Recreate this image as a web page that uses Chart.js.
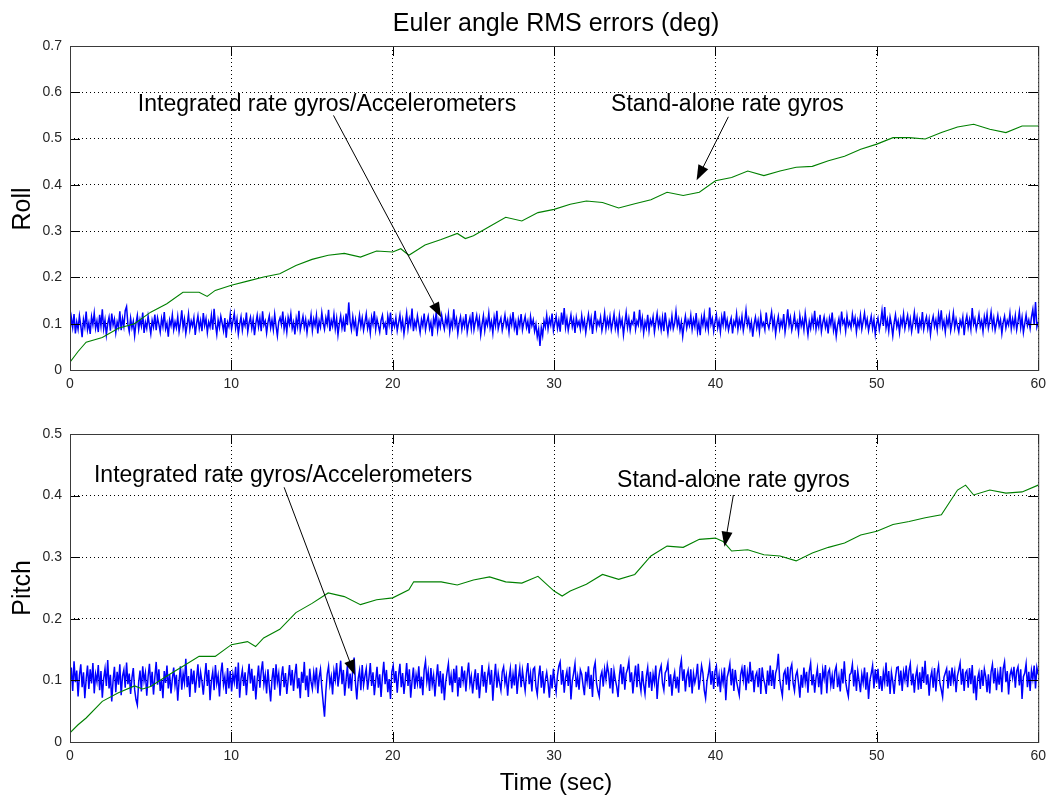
<!DOCTYPE html>
<html lang="en">
<head>
  <meta charset="UTF-8">
  <title>Euler angle RMS errors</title>
  <script src="https://cdn.jsdelivr.net/npm/chart.js"></script>
  <style>
    * { margin: 0; padding: 0; box-sizing: border-box; }
    body { background: #fff; width: 1052px; height: 796px; position: relative; overflow: hidden; }
    canvas { position: absolute; left: 0; }
    #rollChart { top: 0; }
    #pitchChart { top: 400px; }
  </style>
</head>
<body>
  <canvas id="rollChart" width="1052" height="400"></canvas>
  <canvas id="pitchChart" width="1052" height="396"></canvas>

  <script>
    // axis ticks
    const timeTicks = [0, 10, 20, 30, 40, 50, 60];
    const rollTicks = [0, 0.1, 0.2, 0.3, 0.4, 0.5, 0.6, 0.7];
    const pitchTicks = [0, 0.1, 0.2, 0.3, 0.4, 0.5];

    // stand-alone rate gyros (green)
    const rollGyroTime = [0, 0.5, 1, 2, 3, 4, 5, 6, 7, 8, 8.5, 9, 10, 11, 12, 13, 14, 15, 16, 17, 18, 19, 20, 20.5, 21, 22, 23, 24, 24.5, 25,
      26, 27, 28, 29, 30, 31, 32, 33, 34, 35, 36, 37, 38, 39, 40, 41, 42, 43, 44, 45, 46, 47, 48, 49, 50, 51, 52, 53, 54, 55, 56, 57, 58, 59, 60];
    const rollGyro = [0.017, 0.040, 0.060, 0.070, 0.090, 0.100, 0.125, 0.143, 0.168, 0.168, 0.159, 0.172, 0.183, 0.192, 0.201, 0.208, 0.226, 0.239, 0.248, 0.252,
      0.244, 0.257, 0.255, 0.262, 0.248, 0.270, 0.282, 0.295, 0.284, 0.290, 0.310, 0.330, 0.322, 0.340, 0.347, 0.358, 0.365, 0.362, 0.350, 0.359,
      0.368, 0.384, 0.377, 0.384, 0.409, 0.416, 0.430, 0.420, 0.430, 0.438, 0.440, 0.452, 0.462, 0.477, 0.488, 0.502, 0.502, 0.499, 0.513, 0.525,
      0.531, 0.520, 0.513, 0.527, 0.527];

    const pitchGyroTime = [0, 0.5, 1, 2, 3, 4, 4.5, 5, 6, 7, 8, 9, 10, 11, 11.5, 12, 13, 14, 15, 16, 17, 18, 19, 20, 21, 21.3, 22, 23, 24, 25,
      26, 27, 28, 29, 30, 30.5, 31, 32, 33, 34, 35, 36, 37, 38, 39, 40, 40.5, 41, 42, 43, 44, 45, 46, 47, 48, 49, 50, 51, 52, 53,
      54, 55, 55.5, 56, 57, 58, 59, 60];
    const pitchGyro = [0.015, 0.028, 0.039, 0.066, 0.080, 0.091, 0.086, 0.090, 0.107, 0.123, 0.139, 0.139, 0.158, 0.163, 0.155, 0.169, 0.183, 0.210, 0.225, 0.242,
      0.236, 0.223, 0.231, 0.234, 0.247, 0.260, 0.260, 0.260, 0.255, 0.263, 0.268, 0.260, 0.258, 0.269, 0.245, 0.237, 0.245, 0.256, 0.272, 0.264,
      0.272, 0.302, 0.318, 0.316, 0.329, 0.331, 0.325, 0.310, 0.312, 0.304, 0.302, 0.294, 0.307, 0.316, 0.323, 0.336, 0.342, 0.353, 0.358, 0.364,
      0.369, 0.409, 0.417, 0.401, 0.409, 0.404, 0.406, 0.417];

    // integrated rate gyros/accelerometers (blue), estimated, evenly sampled over 0..60 s
    const rollIntegrated = [
      .084,.113,.092,.121,.079,.104,.088,.117,.096,.071,.109,.093,.126,.087,.102,.078,.115,.098,.123,.090,
      .106,.082,.119,.095,.131,.089,.108,.076,.100,.114,.085,.122,.097,.110,.081,.104,.092,.127,.086,.111,
      .094,.128,.137,.099,.083,.112,.091,.105,.074,.101,.118,.088,.109,.095,.124,.080,.103,.090,.116,.097,
      .078,.107,.093,.120,.086,.113,.099,.082,.111,.094,.125,.089,.101,.072,.108,.096,.119,.087,.104,.091,
      .115,.083,.102,.129,.092,.110,.079,.098,.121,.088,.106,.095,.113,.076,.100,.117,.090,.107,.084,.123,
      .096,.111,.081,.104,.093,.118,.087,.132,.099,.077,.108,.092,.116,.101,.085,.112,.070,.103,.094,.120,
      .089,.105,.122,.091,.110,.078,.099,.115,.086,.107,.096,.124,.083,.102,.114,.090,.109,.075,.101,.118,
      .093,.112,.084,.127,.097,.106,.080,.103,.117,.091,.108,.087,.120,.095,.074,.104,.113,.098,.126,.088,
      .107,.082,.114,.099,.121,.090,.103,.077,.111,.094,.128,.086,.101,.116,.092,.109,.081,.105,.097,.119,
      .085,.110,.096,.118,.079,.106,.093,.124,.102,.088,.113,.099,.130,.084,.107,.095,.120,.089,.111,.076,
      .100,.117,.091,.109,.083,.122,.097,.146,.104,.087,.115,.092,.108,.073,.098,.119,.094,.112,.086,.103,
      .121,.090,.105,.080,.114,.099,.127,.088,.110,.096,.082,.107,.118,.093,.101,.076,.116,.098,.124,.087,
      .106,.094,.113,.085,.102,.119,.091,.108,.078,.100,.123,.089,.111,.097,.133,.084,.105,.092,.117,.099,
      .081,.109,.095,.122,.087,.104,.116,.090,.103,.073,.112,.098,.126,.086,.107,.093,.118,.101,.088,.114,
      .097,.120,.083,.106,.092,.131,.096,.110,.079,.102,.115,.088,.108,.094,.121,.082,.100,.113,.090,.125,
      .087,.104,.118,.093,.111,.076,.099,.117,.085,.108,.097,.123,.091,.105,.080,.114,.096,.128,.089,.102,
      .112,.086,.101,.119,.094,.107,.082,.113,.098,.125,.090,.104,.075,.109,.095,.121,.087,.103,.116,.092,
      .105,.079,.115,.096,.108,.084,.099,.072,.088,.052,.091,.074,.106,.093,.118,.089,.110,.097,.122,.085,
      .101,.116,.090,.107,.083,.124,.098,.134,.092,.111,.086,.103,.119,.094,.109,.080,.113,.096,.105,.088,
      .117,.093,.108,.081,.102,.120,.095,.112,.078,.104,.128,.091,.106,.097,.114,.085,.100,.123,.089,.110,
      .094,.115,.087,.103,.121,.090,.107,.083,.118,.096,.109,.076,.101,.124,.092,.111,.086,.105,.099,.126,
      .088,.106,.097,.130,.093,.112,.080,.104,.091,.119,.085,.108,.098,.115,.082,.103,.122,.094,.110,.087,
      .113,.084,.124,.099,.079,.105,.092,.117,.089,.101,.127,.095,.110,.086,.104,.073,.098,.116,.091,.107,
      .096,.118,.088,.109,.094,.123,.083,.102,.075,.113,.097,.120,.090,.106,.087,.135,.099,.111,.084,.104,
      .119,.091,.106,.082,.115,.098,.127,.093,.108,.086,.101,.112,.079,.105,.096,.121,.088,.109,.094,.116,
      .085,.103,.129,.097,.110,.088,.104,.072,.099,.114,.091,.107,.083,.118,.095,.102,.087,.124,.100,.090,
      .108,.125,.093,.111,.078,.101,.116,.089,.106,.094,.121,.082,.103,.131,.097,.113,.086,.100,.118,.092,
      .104,.081,.117,.095,.109,.087,.122,.099,.076,.105,.090,.114,.096,.128,.088,.107,.093,.119,.083,.102,
      .115,.092,.106,.079,.112,.098,.124,.086,.103,.073,.097,.111,.089,.126,.100,.108,.084,.117,.095,.104,
      .091,.120,.099,.113,.082,.107,.094,.118,.088,.105,.123,.096,.110,.085,.101,.116,.090,.109,.077,.100,
      .112,.087,.103,.128,.095,.136,.091,.108,.084,.114,.098,.074,.102,.119,.093,.106,.081,.111,.097,.121,
      .089,.105,.118,.092,.110,.083,.101,.124,.096,.113,.079,.107,.094,.125,.088,.104,.115,.090,.109,.077,
      .103,.116,.094,.108,.086,.120,.099,.129,.093,.106,.082,.112,.097,.118,.085,.101,.123,.091,.110,.095,
      .082,.107,.096,.114,.075,.104,.117,.092,.109,.088,.134,.099,.111,.087,.102,.120,.094,.106,.083,.115,
      .098,.121,.090,.105,.125,.093,.112,.086,.101,.118,.095,.108,.079,.103,.116,.091,.107,.097,.122,.089,
      .110,.094,.117,.087,.105,.126,.092,.113,.081,.100,.119,.096,.108,.090,.115,.131,.098,.147,.093,.104
    ];
    const pitchIntegrated = [
      .092,.121,.083,.131,.097,.116,.074,.108,.126,.089,.113,.071,.102,.124,.086,.118,.095,.128,.079,.110,
      .098,.125,.084,.115,.072,.103,.119,.091,.133,.087,.109,.066,.100,.122,.081,.114,.093,.126,.076,.107,
      .117,.088,.129,.094,.111,.078,.104,.120,.085,.069,.060,.097,.116,.082,.123,.099,.112,.075,.106,.127,
      .090,.114,.077,.105,.130,.093,.118,.083,.101,.071,.115,.096,.124,.087,.110,.079,.102,.121,.092,.109,
      .067,.099,.123,.085,.111,.096,.135,.089,.107,.073,.119,.094,.116,.080,.103,.126,.088,.113,.098,.077,
      .104,.128,.091,.117,.068,.100,.114,.084,.125,.095,.108,.074,.112,.129,.093,.106,.078,.120,.087,.115,
      .082,.110,.097,.122,.086,.129,.072,.103,.117,.091,.113,.076,.105,.127,.095,.119,.083,.108,.069,.101,
      .124,.088,.115,.131,.094,.109,.079,.118,.090,.066,.102,.120,.085,.126,.097,.111,.075,.106,.123,.089,
      .112,.078,.101,.125,.092,.117,.083,.109,.127,.087,.104,.071,.114,.096,.130,.084,.108,.073,.119,.098,
      .086,.113,.095,.121,.079,.105,.118,.088,.064,.041,.082,.110,.123,.093,.106,.077,.115,.101,.128,.090,
      .109,.132,.094,.117,.075,.100,.124,.087,.111,.083,.120,.137,.096,.069,.103,.116,.084,.125,.092,.107,
      .119,.085,.104,.128,.091,.113,.076,.099,.122,.088,.110,.073,.106,.130,.094,.117,.081,.102,.070,.114,
      .124,.096,.115,.080,.108,.127,.089,.112,.078,.101,.128,.091,.118,.072,.099,.121,.086,.109,.095,.123,
      .087,.106,.076,.117,.131,.098,.114,.083,.120,.093,.108,.074,.103,.126,.090,.115,.079,.111,.068,.097,
      .113,.127,.092,.108,.081,.119,.096,.124,.074,.105,.088,.123,.099,.116,.082,.110,.129,.094,.107,.079,
      .101,.118,.085,.112,.071,.097,.125,.090,.114,.080,.106,.121,.093,.117,.067,.102,.127,.088,.111,.096,
      .084,.114,.122,.095,.108,.075,.103,.119,.087,.110,.092,.126,.078,.104,.120,.089,.116,.099,.083,.112,
      .128,.094,.111,.082,.118,.121,.090,.077,.106,.124,.088,.115,.079,.101,.113,.096,.072,.109,.087,.119,
      .097,.081,.108,.123,.130,.093,.117,.080,.104,.115,.091,.122,.069,.099,.112,.127,.089,.106,.085,.117,
      .110,.092,.076,.114,.098,.123,.086,.109,.073,.119,.129,.095,.083,.074,.106,.114,.090,.118,.102,.125,
      .112,.087,.120,.079,.116,.101,.090,.073,.108,.126,.094,.122,.085,.111,.118,.131,.097,.113,.079,.104,
      .124,.089,.127,.098,.083,.115,.093,.078,.107,.121,.088,.114,.083,.110,.096,.124,.070,.101,.116,.124,
      .095,.084,.112,.117,.128,.090,.110,.075,.101,.113,.087,.106,.080,.120,.133,.099,.118,.082,.107,.116,
      .089,.118,.079,.111,.096,.107,.127,.085,.102,.124,.112,.084,.071,.098,.110,.126,.093,.115,.086,.115,
      .123,.090,.108,.081,.111,.096,.121,.068,.105,.114,.127,.092,.119,.083,.117,.098,.087,.076,.109,.120,
      .101,.125,.084,.112,.095,.130,.098,.116,.081,.107,.113,.089,.120,.078,.121,.103,.094,.078,.116,.092,
      .124,.091,.117,.086,.112,.120,.143,.102,.087,.075,.110,.116,.093,.122,.084,.118,.126,.095,.083,.108,
      .115,.096,.072,.109,.088,.121,.097,.114,.080,.115,.128,.092,.110,.080,.104,.119,.089,.112,.077,.117,
      .103,.125,.079,.113,.118,.092,.108,.086,.115,.123,.089,.106,.082,.119,.095,.131,.098,.084,.074,.109,
      .112,.126,.090,.117,.083,.115,.099,.081,.110,.096,.121,.085,.113,.070,.100,.111,.124,.087,.118,.095,
      .119,.086,.107,.083,.113,.097,.129,.090,.115,.078,.113,.098,.078,.105,.121,.122,.092,.116,.083,.114,
      .101,.124,.089,.116,.127,.092,.111,.080,.106,.118,.085,.113,.086,.122,.096,.132,.093,.110,.075,.104,
      .115,.088,.120,.082,.111,.124,.095,.085,.073,.105,.112,.119,.087,.116,.091,.121,.099,.114,.081,.107,
      .117,.128,.093,.119,.083,.112,.116,.088,.120,.094,.125,.079,.108,.068,.103,.113,.086,.117,.091,.118,
      .106,.081,.110,.079,.114,.126,.095,.120,.084,.111,.093,.122,.081,.119,.130,.097,.115,.077,.108,.117,
      .104,.122,.088,.115,.122,.092,.118,.070,.106,.112,.127,.089,.114,.083,.116,.102,.124,.087,.121,.110
    ];

    const FONT = '"Liberation Sans", Arial, sans-serif';

    function sampleTimes(n) {
      const t = [];
      for (let i = 0; i < n; i++) t.push(i * 60 / (n - 1));
      return t;
    }
    function toPoints(times, values) {
      return values.map((v, i) => ({ x: times[i], y: v }));
    }

    // frame, inward tick marks, labels and arrow annotations
    const decor = {
      id: 'decor',
      afterDraw(chart, args, opts) {
        const { ctx, chartArea: a } = chart;
        const x = chart.scales.x, y = chart.scales.y;
        ctx.save();

        ctx.strokeStyle = '#000';
        ctx.lineWidth = 1;
        ctx.beginPath();
        x.ticks.forEach(t => {
          const px = Math.round(x.getPixelForValue(t.value)) + 0.5;
          ctx.moveTo(px, a.bottom); ctx.lineTo(px, a.bottom - 10);
          ctx.moveTo(px, a.top); ctx.lineTo(px, a.top + 10);
        });
        y.ticks.forEach(t => {
          const py = Math.round(y.getPixelForValue(t.value)) + 0.5;
          ctx.moveTo(a.left, py); ctx.lineTo(a.left + 10, py);
          ctx.moveTo(a.right, py); ctx.lineTo(a.right - 10, py);
        });
        ctx.stroke();

        ctx.strokeStyle = '#3a3a3a';
        ctx.strokeRect(a.left + 0.5, a.top + 0.5, a.right - a.left, a.bottom - a.top);

        ctx.fillStyle = '#000';
        (opts.labels || []).forEach(l => {
          ctx.save();
          ctx.font = l.size + 'px ' + FONT;
          ctx.textAlign = 'center';
          ctx.textBaseline = 'alphabetic';
          ctx.translate(l.x, l.y);
          if (l.rot) ctx.rotate(-Math.PI / 2);
          ctx.fillText(l.text, 0, 0);
          ctx.restore();
        });

        ctx.strokeStyle = '#000';
        (opts.notes || []).forEach(n => {
          ctx.font = '23px ' + FONT;
          ctx.textAlign = 'center';
          ctx.textBaseline = 'alphabetic';
          ctx.fillText(n.text, x.getPixelForValue(n.at[0]), y.getPixelForValue(n.at[1]));

          const x0 = x.getPixelForValue(n.from[0]), y0 = y.getPixelForValue(n.from[1]);
          const x1 = x.getPixelForValue(n.to[0]), y1 = y.getPixelForValue(n.to[1]);
          const ang = Math.atan2(y1 - y0, x1 - x0);
          const c = Math.cos(ang), s = Math.sin(ang);
          ctx.beginPath();
          ctx.moveTo(x0, y0);
          ctx.lineTo(x1 - 10 * c, y1 - 10 * s);
          ctx.stroke();
          ctx.beginPath();
          ctx.moveTo(x1, y1);
          ctx.lineTo(x1 - 15 * c + 5.5 * s, y1 - 15 * s - 5.5 * c);
          ctx.lineTo(x1 - 15 * c - 5.5 * s, y1 - 15 * s + 5.5 * c);
          ctx.closePath();
          ctx.fill();
        });
        ctx.restore();
      }
    };

    function makeChart(id, gyroTime, gyro, integrated, yTicks, padTop, xHeight, decorOpts) {
      const yMax = yTicks[yTicks.length - 1];
      return new Chart(document.getElementById(id), {
        type: 'line',
        data: {
          datasets: [
            {
              label: 'Stand-alone rate gyros',
              data: toPoints(gyroTime, gyro),
              borderColor: '#008000',
              borderWidth: 1.1,
              pointRadius: 0,
              tension: 0
            },
            {
              label: 'Integrated rate gyros/Accelerometers',
              data: toPoints(sampleTimes(integrated.length), integrated),
              borderColor: '#0000ff',
              borderWidth: 1.5,
              pointRadius: 0,
              tension: 0
            }
          ]
        },
        options: {
          responsive: false,
          animation: false,
          devicePixelRatio: 1,
          layout: { padding: { top: padTop, right: 10, left: 0, bottom: 0 } },
          plugins: {
            legend: { display: false },
            tooltip: { enabled: false },
            decor: decorOpts
          },
          scales: {
            x: {
              type: 'linear',
              min: 0,
              max: 60,
              afterBuildTicks: s => { s.ticks = timeTicks.map(v => ({ value: v })); },
              afterFit: s => { s.height = xHeight; },
              grid: { color: '#000', lineWidth: 1, drawTicks: false },
              border: { display: false, dash: [1, 3] },
              ticks: {
                autoSkip: false,
                maxRotation: 0,
                padding: 6,
                color: '#262626',
                font: { family: FONT, size: 14 },
                callback: v => String(v)
              }
            },
            y: {
              type: 'linear',
              min: 0,
              max: yMax,
              afterBuildTicks: s => { s.ticks = yTicks.map(v => ({ value: v })); },
              afterFit: s => { s.width = 70; },
              grid: { color: '#000', lineWidth: 1, drawTicks: false },
              border: { display: false, dash: [1, 3] },
              ticks: {
                padding: 8,
                color: '#262626',
                font: { family: FONT, size: 14 },
                callback: v => (v === 0 ? '0' : v.toFixed(1))
              }
            }
          }
        },
        plugins: [decor]
      });
    }

    makeChart('rollChart', rollGyroTime, rollGyro, rollIntegrated, rollTicks, 46, 30, {
      labels: [
        { text: 'Euler angle RMS errors (deg)', x: 556, y: 31, size: 25 },
        { text: 'Roll', x: 30, y: 209, size: 25, rot: true }
      ],
      notes: [
        { text: 'Integrated rate gyros/Accelerometers', at: [15.93, 0.559], from: [16.33, 0.55], to: [23.0, 0.114] },
        { text: 'Stand-alone rate gyros', at: [40.74, 0.559], from: [40.8, 0.547], to: [38.83, 0.41] }
      ]
    });

    makeChart('pitchChart', pitchGyroTime, pitchGyro, pitchIntegrated, pitchTicks, 34, 54, {
      labels: [
        { text: 'Pitch', x: 30, y: 188, size: 25, rot: true },
        { text: 'Time (sec)', x: 556, y: 390, size: 24 }
      ],
      notes: [
        { text: 'Integrated rate gyros/Accelerometers', at: [13.21, 0.4226], from: [13.27, 0.4135], to: [17.65, 0.1088] },
        { text: 'Stand-alone rate gyros', at: [41.11, 0.4135], from: [41.11, 0.401], to: [40.56, 0.317] }
      ]
    });
  </script>
</body>
</html>
